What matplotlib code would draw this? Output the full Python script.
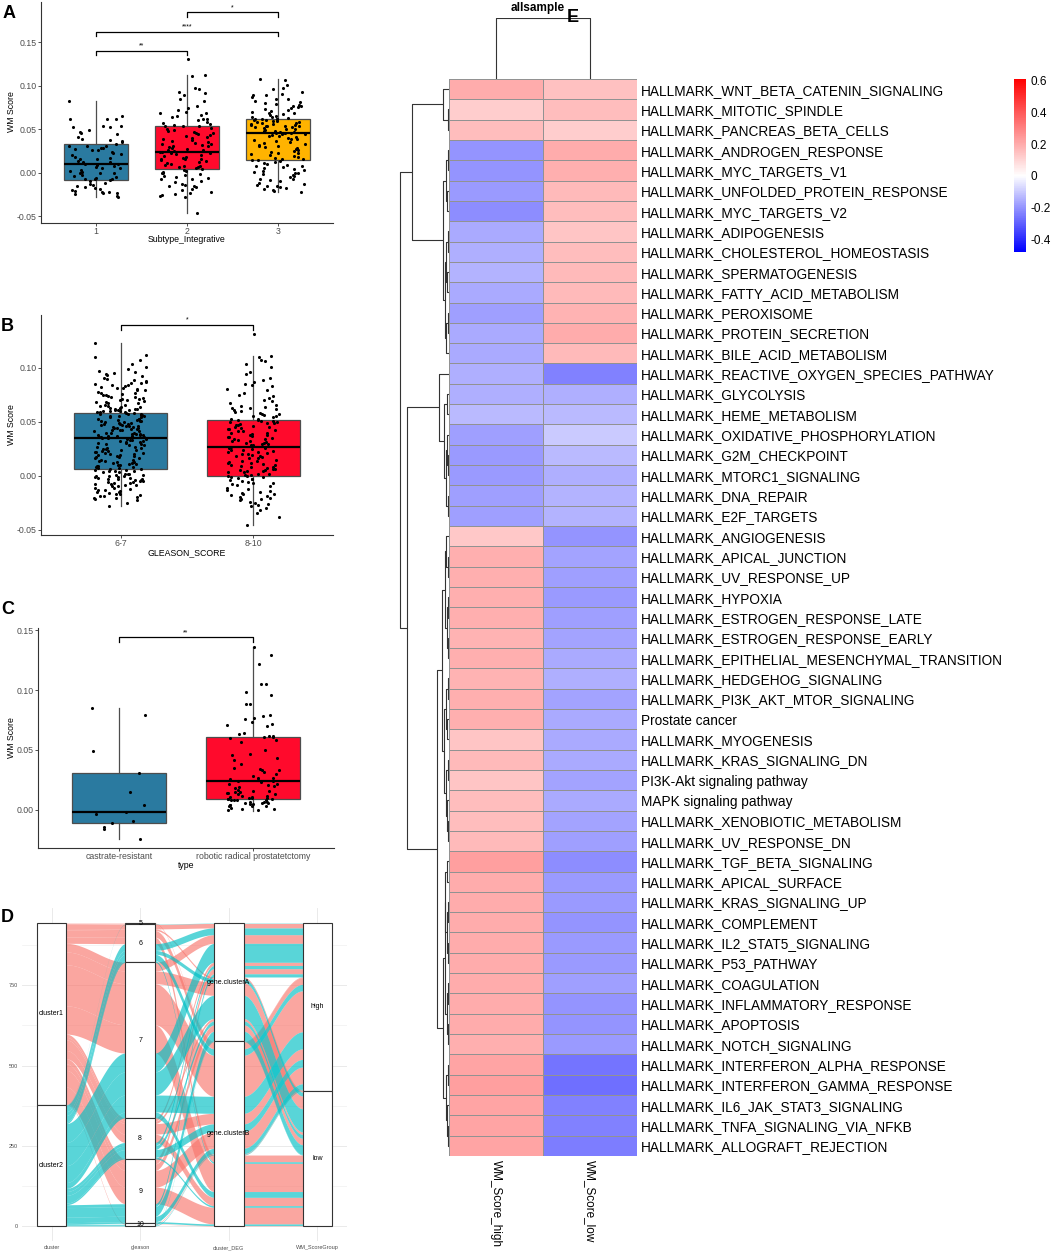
import numpy as np
import matplotlib.pyplot as plt
from matplotlib.colors import LinearSegmentedColormap, Normalize
from matplotlib.cm import ScalarMappable

plt.rcParams['font.family'] = ['Liberation Sans', 'DejaVu Sans']

# ---------------- panel A ----------------
a_labels = ['1', '2', '3']
a_q1 = [-0.009, 0.004, 0.014]
a_med = [0.010, 0.024, 0.046]
a_q3 = [0.033, 0.054, 0.061]
a_lo = [-0.028, -0.047, -0.022]
a_hi = [0.082, 0.112, 0.107]
# jitter points, in thousandths
a_pts1 = [82, 65, 62, 61, 61, 54, 53, 52, 52, 49, 47, 46, 44, 41, 39, 37, 36, 35, 33, 31, 31, 30, 28, 28, 27,
          26, 26, 24, 22, 21, 20, 18, 17, 16, 15, 13, 12, 12, 10, 10, 9, 8, 6, 5, 5, 3, 2, 1, 0, -1, -1, -3,
          -4, -5, -6, -7, -8, -8, -9, -10, -12, -13, -14, -15, -17, -18, -19, -20, -21, -22, -22, -23, -24,
          -25, -27, -28]
a_pts2 = [131, 112, 111, 97, 96, 93, 91, 89, 84, 82, 76, 74, 72, 70, 68, 68, 66, 65, 64, 62, 61, 60, 58, 57,
          56, 55, 54, 54, 53, 51, 50, 49, 48, 47, 46, 45, 44, 43, 42, 41, 40, 38, 37, 36, 35, 34, 33, 33, 32,
          31, 30, 29, 28, 27, 26, 26, 25, 24, 24, 23, 22, 21, 20, 19, 18, 17, 16, 16, 15, 14, 13, 12, 11, 10,
          9, 8, 7, 6, 6, 5, 4, 3, 2, 1, 0, -1, -2, -3, -4, -5, -6, -7, -8, -10, -11, -13, -14, -15, -16, -17,
          -19, -20, -22, -24, -25, -26, -27, -28, -47]
a_pts3 = [107, 106, 101, 97, 96, 93, 90, 89, 89, 87, 85, 84, 82, 81, 80, 79, 78, 77, 76, 75, 74, 73, 72, 71,
          70, 69, 68, 67, 66, 65, 64, 64, 63, 62, 62, 61, 61, 60, 60, 59, 59, 58, 58, 57, 57, 56, 56, 55, 55,
          54, 54, 53, 53, 52, 52, 51, 50, 50, 49, 48, 48, 47, 47, 46, 46, 45, 45, 44, 44, 43, 42, 42, 41, 40,
          39, 38, 37, 36, 35, 34, 33, 32, 31, 30, 29, 28, 27, 26, 25, 24, 23, 22, 21, 20, 19, 18, 17, 16, 15,
          14, 14, 13, 12, 11, 10, 9, 8, 7, 6, 5, 4, 3, 2, 1, 0, -1, -2, -3, -4, -5, -7, -8, -9, -10, -12, -13,
          -14, -15, -16, -17, -18, -19, -20, -21, -22]

# ---------------- panel B ----------------
b_labels = ['6-7', '8-10']
b_q1 = [0.006, 0.000]
b_med = [0.035, 0.027]
b_q3 = [0.058, 0.052]
b_lo = [-0.028, -0.046]
b_hi = [0.123, 0.111]
b_pts1 = [123, 112, 110, 107, 104, 101, 99, 97, 96, 95, 94, 93, 92, 91, 90, 89, 88, 87, 86, 86, 85, 84, 84,
          83, 82, 81, 81, 80, 79, 79, 78, 77, 77, 76, 75, 75, 74, 73, 73, 72, 71, 71, 70, 70, 69, 68, 68, 67,
          67, 66, 66, 65, 65, 64, 64, 63, 63, 62, 62, 62, 61, 61, 61, 60, 60, 60, 59, 59, 59, 58,
          58, 57, 57, 57, 56, 56, 55, 55, 55, 54, 54, 53, 53, 53, 52, 52, 51, 51, 51, 50, 50, 49, 49, 48, 48,
          48, 47, 47, 46, 46, 46, 45, 45, 44, 44, 44, 43, 43, 42, 42, 42, 41, 41, 40, 40, 40, 39, 39, 39, 38,
          38, 38, 37, 37, 37, 36, 36, 36, 35, 35,
          34, 34, 33, 33, 32, 32, 31, 31, 30, 30, 29, 29, 28, 28, 27, 27, 26, 26, 25, 25, 24, 24, 23, 23, 22,
          22, 21, 21, 20, 20, 19, 19, 18, 18, 17, 17, 16, 16, 15, 15, 14, 14, 13, 13, 12, 12, 11, 11, 10, 10,
          9, 9, 8, 8, 7, 7, 6, 6,
          5, 5, 4, 4, 4, 3, 3, 2, 2, 2, 1, 1, 0, 0, 0, -1, -1, -2, -2, -3, -3, -3, -4, -4, -5, -5, -6, -6, -7,
          -7, -8, -8, -9, -9, -10, -10, -11, -11, -12, -13, -13, -14, -15, -15, -16, -17, -17, -18, -19, -19,
          -20, -21, -21, -22, -23, -25, -28]
b_pts2 = [131, 111, 110, 107, 106, 104, 101, 96, 94, 91, 89, 87, 85, 84, 83, 80, 79, 77, 75, 74, 72, 70, 69,
          67, 66, 65, 64, 63, 63, 62, 61, 60, 59, 58, 57, 57, 56, 55, 55, 54, 53, 53, 52, 52,
          51, 51, 50, 50, 49, 49, 48, 47, 47, 46, 45, 45, 44, 43, 43, 42, 41, 41, 40, 40, 39, 38, 38, 37, 36,
          36, 35, 34, 34, 33, 32, 32, 31, 30, 30, 29, 29, 28, 28, 27, 27,
          26, 26, 25, 24, 24, 23, 22, 22, 21, 20, 20, 19, 18, 18, 17, 16, 16, 15, 14, 14, 13, 12, 12, 11, 10,
          10, 9, 8, 8, 7, 6, 6, 5, 5, 4, 4, 3, 3, 2, 2, 1, 1, 0, 0,
          -1, -1, -2, -3, -3, -4, -5, -6, -7, -7, -8, -9, -10, -11, -12, -13, -14, -15, -16, -17, -17, -18,
          -19, -20, -21, -22, -22, -23, -24, -25, -26, -27, -28, -30, -32, -35, -38, -46]

# ---------------- panel C ----------------
c_labels = ['castrate-resistant', 'robotic radical prostatetctomy']
c_q1 = [-0.011, 0.009]
c_med = [-0.002, 0.024]
c_q3 = [0.031, 0.061]
c_lo = [-0.024, -0.001]
c_hi = [0.085, 0.136]
c_pts1 = [85, 79, 49, 31, 15, 4, -2, -3, -9, -11, -14, -16, -24]
c_pts2 = [136, 129, 122, 105, 105, 98, 96, 88, 88, 79, 78, 77, 76, 73, 72, 71, 70, 64, 63, 62, 62, 61, 61,
          60, 58, 57, 50, 47, 46, 43, 42, 38, 35, 34, 33, 33, 32, 30, 28, 27, 27, 26, 25, 24, 24, 23, 22, 22,
          21, 20, 19, 18, 17, 16, 16, 15, 15, 14, 14, 13, 13, 12, 12, 11, 11, 10, 10, 10, 9, 9, 9, 8, 8, 8, 8,
          7, 7, 7, 6, 6, 6, 5, 5, 4, 4, 3, 3, 3, 2, 1, 1, 0, 0]

box_cols = ['#2A7AA0', '#FF0A2C', '#FFB300']

# ---------------- panel D (alluvial) ----------------
d_axes = ['cluster', 'gleason', 'cluster_DEG', 'WM_ScoreGroup']
d_clusters = ['cluster1', 'cluster2']
d_gleason = ['5', '6', '7', '8', '9', '10']
d_deg = ['gene.clusterA', 'gene.clusterB']
d_wm = ['high', 'low']
# counts[cluster][gleason] -> (A-high, A-low, B-high, B-low)
d_counts = [
    [[0, 0, 2, 1], [14, 5, 21, 20], [27, 40, 128, 88], [10, 8, 33, 26], [16, 20, 52, 52], [0, 0, 2, 1]],
    [[1, 0, 0, 0], [21, 12, 20, 5], [59, 72, 53, 18], [10, 12, 24, 5], [9, 30, 17, 5], [1, 2, 2, 0]],
]
d_cols = ['#F8766D', '#00BFC4']

# ---------------- panel E (heatmap) ----------------
e_rows = ['HALLMARK_WNT_BETA_CATENIN_SIGNALING', 'HALLMARK_MITOTIC_SPINDLE', 'HALLMARK_PANCREAS_BETA_CELLS',
          'HALLMARK_ANDROGEN_RESPONSE', 'HALLMARK_MYC_TARGETS_V1', 'HALLMARK_UNFOLDED_PROTEIN_RESPONSE',
          'HALLMARK_MYC_TARGETS_V2', 'HALLMARK_ADIPOGENESIS', 'HALLMARK_CHOLESTEROL_HOMEOSTASIS',
          'HALLMARK_SPERMATOGENESIS', 'HALLMARK_FATTY_ACID_METABOLISM', 'HALLMARK_PEROXISOME',
          'HALLMARK_PROTEIN_SECRETION', 'HALLMARK_BILE_ACID_METABOLISM',
          'HALLMARK_REACTIVE_OXYGEN_SPECIES_PATHWAY', 'HALLMARK_GLYCOLYSIS', 'HALLMARK_HEME_METABOLISM',
          'HALLMARK_OXIDATIVE_PHOSPHORYLATION', 'HALLMARK_G2M_CHECKPOINT', 'HALLMARK_MTORC1_SIGNALING',
          'HALLMARK_DNA_REPAIR', 'HALLMARK_E2F_TARGETS', 'HALLMARK_ANGIOGENESIS', 'HALLMARK_APICAL_JUNCTION',
          'HALLMARK_UV_RESPONSE_UP', 'HALLMARK_HYPOXIA', 'HALLMARK_ESTROGEN_RESPONSE_LATE',
          'HALLMARK_ESTROGEN_RESPONSE_EARLY', 'HALLMARK_EPITHELIAL_MESENCHYMAL_TRANSITION',
          'HALLMARK_HEDGEHOG_SIGNALING', 'HALLMARK_PI3K_AKT_MTOR_SIGNALING', 'Prostate cancer',
          'HALLMARK_MYOGENESIS', 'HALLMARK_KRAS_SIGNALING_DN', 'PI3K-Akt signaling pathway',
          'MAPK signaling pathway', 'HALLMARK_XENOBIOTIC_METABOLISM', 'HALLMARK_UV_RESPONSE_DN',
          'HALLMARK_TGF_BETA_SIGNALING', 'HALLMARK_APICAL_SURFACE', 'HALLMARK_KRAS_SIGNALING_UP',
          'HALLMARK_COMPLEMENT', 'HALLMARK_IL2_STAT5_SIGNALING', 'HALLMARK_P53_PATHWAY',
          'HALLMARK_COAGULATION', 'HALLMARK_INFLAMMATORY_RESPONSE', 'HALLMARK_APOPTOSIS',
          'HALLMARK_NOTCH_SIGNALING', 'HALLMARK_INTERFERON_ALPHA_RESPONSE',
          'HALLMARK_INTERFERON_GAMMA_RESPONSE', 'HALLMARK_IL6_JAK_STAT3_SIGNALING',
          'HALLMARK_TNFA_SIGNALING_VIA_NFKB', 'HALLMARK_ALLOGRAFT_REJECTION']
e_cols = ['WM_Score_high', 'WM_Score_low']
e_high = [0.20, 0.12, 0.155, -0.20, -0.20, -0.19, -0.215, -0.16, -0.15, -0.14, -0.16, -0.18, -0.16, -0.16,
          -0.15, -0.15, -0.13, -0.18, -0.19, -0.19, -0.18, -0.18, 0.13, 0.19, 0.19, 0.19, 0.19, 0.18, 0.19,
          0.18, 0.19, 0.19, 0.14, 0.167, 0.14, 0.155, 0.155, 0.167, 0.23, 0.20, 0.20, 0.20, 0.20, 0.20, 0.20,
          0.20, 0.20, 0.19, 0.215, 0.23, 0.215, 0.215, 0.215]
e_low = [0.15, 0.155, 0.12, 0.20, 0.19, 0.165, 0.155, 0.14, 0.155, 0.165, 0.165, 0.18, 0.20, 0.165,
         -0.235, -0.15, -0.13, -0.10, -0.13, -0.15, -0.14, -0.14, -0.20, -0.17, -0.18, -0.19, -0.18, -0.17,
         -0.16, -0.15, -0.17, -0.16, -0.16, -0.16, -0.17, -0.16, -0.17, -0.18, -0.215, -0.19, -0.19, -0.20,
         -0.19, -0.19, -0.18, -0.20, -0.20, -0.19, -0.26, -0.27, -0.235, -0.235, -0.245]
# row tree: [left, right, height], height in px from heatmap edge
g1 = [0, [1, 2, 1.5], 5.7]
g2 = [[[3, 4, 1.0], [5, 6, 2.2], 3.5], [[[7, 8, 1.2], [9, 10, 1.8], 3.0], [[11, 12, 1.4], 13, 2.6], 4.2], 6.0]
g3 = [14, [[15, 16, 1.6], [[17, [18, 19, 1.0], 2.4], [20, 21, 1.2], 3.2], 4.6], 9.7]
g4a = [[[22, [23, 24, 1.5], 3.0], [[25, 26, 1.2], [27, 28, 1.0], 2.5], 4.5],
       [[[29, 30, 1.3], [31, 32, 1.8], 2.8], [[33, 34, 1.1], [35, [36, 37, 1.0], 1.7], 3.0], 5.0], 7.0]
g4b = [[[[38, 39, 1.6], [[40, 41, 1.0], [42, 43, 1.3], 2.4], 3.6], [[44, 45, 1.1], [46, 47, 1.4], 2.2], 4.4],
       [[48, 49, 1.5], [50, [51, 52, 0.8], 1.6], 3.0], 6.2]
row_tree = [[g1, g2, 37.5], [g3, [g4a, g4b, 12.3], 41.8], 49.0]

W, H = 1052, 1251
fig = plt.figure(figsize=(W / 100, H / 100), dpi=100)


def px_axes(x0, y0, x1, y1):
    return fig.add_axes([x0 / W, 1 - y1 / H, (x1 - x0) / W, (y1 - y0) / H])


def jitter(n, w, seed):
    k = np.arange(n) + seed
    u = (np.sin(k * 12.9898 + 4.1414) * 43758.5453) % 1
    return (u - 0.5) * 2 * w


def box_panel(ax, labels, q1, med, q3, lo, hi, pts, jw, ylim, yticks, brackets, tick):
    for i in range(len(labels)):
        st = dict(q1=q1[i], med=med[i], q3=q3[i], whislo=lo[i], whishi=hi[i], fliers=[])
        ax.bxp([st], positions=[i + 1], widths=0.7, patch_artist=True, showcaps=False,
               boxprops=dict(facecolor=box_cols[i], edgecolor='#4d4d4d', linewidth=0.9),
               medianprops=dict(color='black', linewidth=1.6),
               whiskerprops=dict(color='#4d4d4d', linewidth=0.9))
        y = np.array(pts[i]) / 1000
        ax.scatter(i + 1 + jitter(len(y), jw, i * 97), y, s=5, color='black', linewidths=0, zorder=3)
    for x1, x2, yb, lab in brackets:
        ax.plot([x1, x1, x2, x2], [yb - tick, yb, yb, yb - tick], color='black', lw=0.9)
        ax.text((x1 + x2) / 2, yb + tick * 0.2, lab, ha='center', va='bottom', fontsize=5)
    ax.set_xlim(0.4, len(labels) + 0.6)
    ax.set_ylim(*ylim)
    ax.set_xticks(range(1, len(labels) + 1))
    ax.set_xticklabels(labels)
    ax.set_yticks(yticks)
    ax.set_yticklabels([f'{v:.2f}' for v in yticks])
    for s in ['top', 'right']:
        ax.spines[s].set_visible(False)
    for s in ['left', 'bottom']:
        ax.spines[s].set_color('#333333')
        ax.spines[s].set_linewidth(0.8)
    ax.tick_params(labelsize=6.3, color='#333333', labelcolor='#4d4d4d', length=2, width=0.6, pad=1)


# A
axA = px_axes(41, 2, 333, 223)
box_panel(axA, a_labels, a_q1, a_med, a_q3, a_lo, a_hi, [a_pts1, a_pts2, a_pts3], 0.3,
          (-0.058, 0.196), [-0.05, 0, 0.05, 0.10, 0.15],
          [(1, 2, 0.140, '**'), (1, 3, 0.162, '****'), (2, 3, 0.184, '*')], 0.005)
fig.text(11 / W, 1 - 112 / H, 'WM Score', rotation=90, ha='center', va='center', fontsize=6.3)
fig.text(187 / W, 1 - 240 / H, 'Subtype_Integrative', ha='center', va='center', fontsize=6.3)

# B
axB = px_axes(41, 315, 333, 535)
box_panel(axB, b_labels, b_q1, b_med, b_q3, b_lo, b_hi, [b_pts1, b_pts2], 0.2,
          (-0.055, 0.149), [-0.05, 0, 0.05, 0.10], [(1, 2, 0.140, '*')], 0.0045)
fig.text(11 / W, 1 - 425 / H, 'WM Score', rotation=90, ha='center', va='center', fontsize=6.3)
fig.text(187 / W, 1 - 553 / H, 'GLEASON_SCORE', ha='center', va='center', fontsize=6.3)

# C
axC = px_axes(38, 628, 334, 848)
box_panel(axC, c_labels, c_q1, c_med, c_q3, c_lo, c_hi, [c_pts1, c_pts2], 0.2,
          (-0.0317, 0.1517), [0, 0.05, 0.10, 0.15], [(1, 2, 0.144, '**')], 0.004)
fig.text(11 / W, 1 - 738 / H, 'WM Score', rotation=90, ha='center', va='center', fontsize=6.3)
fig.text(186 / W, 1 - 866 / H, 'type', ha='center', va='center', fontsize=6.3)

# D - alluvial, lodes ordered by zigzag like ggalluvial
axD = px_axes(22, 908, 347, 1241)
alluvia = []
for c in range(len(d_clusters)):
    for g in range(len(d_gleason)):
        for k in range(4):
            n = d_counts[c][g][k]
            if n > 0:
                alluvia.append(((c, g, k // 2, k % 2), n))
N = sum(n for _, n in alluvia)
zigzag = [[0, 1, 2, 3], [1, 0, 2, 3], [2, 3, 1, 0], [3, 2, 1, 0]]
pos = [[None] * 4 for _ in alluvia]
for a in range(4):
    order = sorted(range(len(alluvia)), key=lambda j: tuple(alluvia[j][0][k] for k in zigzag[a]))
    top = N
    for j in order:
        n = alluvia[j][1]
        pos[j][a] = (top - n, top)
        top -= n

hw = 1 / 6
tt = np.linspace(0, 1, 40)[1:-1]
sig = tt * tt * (3 - 2 * tt)
for j, (key, n) in enumerate(alluvia):
    xs, yb, yt = [], [], []
    for a in range(4):
        xs += [a + 1 - hw, a + 1 + hw]
        yb += [pos[j][a][0]] * 2
        yt += [pos[j][a][1]] * 2
        if a < 3:
            x0, x1 = a + 1 + hw, a + 2 - hw
            xs += list(x0 + (x1 - x0) * tt)
            yb += list(pos[j][a][0] + (pos[j][a + 1][0] - pos[j][a][0]) * sig)
            yt += list(pos[j][a][1] + (pos[j][a + 1][1] - pos[j][a][1]) * sig)
    axD.fill_between(xs, yb, yt, color=d_cols[key[0]], alpha=0.65, lw=0, zorder=2)

strata_names = [d_clusters, d_gleason, d_deg, d_wm]
for a in range(4):
    top = N
    for s, name in enumerate(strata_names[a]):
        tot = sum(n for key, n in alluvia if key[a] == s)
        axD.bar(a + 1, tot, bottom=top - tot, width=1 / 3, facecolor='white', edgecolor='#333333',
                lw=0.8, zorder=3)
        axD.text(a + 1, top - tot / 2, name, ha='center', va='center', fontsize=5, zorder=4)
        top -= tot
axD.set_xlim(2 / 3, 4 + 1 / 3)
axD.set_ylim(-0.05 * N, 1.05 * N)
axD.set_xticks([1, 2, 3, 4])
axD.set_xticklabels(d_axes)
axD.set_yticks([0, 250, 500, 750])
axD.set_yticks([125, 375, 625, 875], minor=True)
axD.grid(True, which='major', color='#e6e6e6', lw=0.6)
axD.grid(True, which='minor', axis='y', color='#f0f0f0', lw=0.5)
axD.set_axisbelow(True)
for s in axD.spines.values():
    s.set_visible(False)
axD.tick_params(which='both', length=0, labelsize=4, labelcolor='#4d4d4d', pad=3)

# E - heatmap
mat = np.column_stack([e_high, e_low])
vmin, vmax = -0.48, 0.61
cmap = LinearSegmentedColormap.from_list('ph', [(0, '#0000ff'), (-vmin / (vmax - vmin), '#ffffff'),
                                                (1, '#ff0000')])
norm = Normalize(vmin, vmax)
axE = px_axes(449, 79, 637, 1156)
axE.pcolormesh(mat, cmap=cmap, norm=norm, edgecolors='#929292', linewidth=0.6)
axE.set_xlim(0, 2)
axE.set_ylim(len(e_rows), 0)
axE.yaxis.tick_right()
axE.set_yticks(np.arange(len(e_rows)) + 0.5)
axE.set_yticklabels(e_rows, fontsize=9.8)
axE.set_xticks([0.5, 1.5])
axE.set_xticklabels(e_cols, rotation=270, fontsize=8.5, va='top', ha='center')
axE.tick_params(length=0, pad=3)
for s in axE.spines.values():
    s.set_visible(False)

# row dendrogram
axR = px_axes(398, 79, 449, 1156)


def draw_tree(ax, node, horizontal):
    if not isinstance(node, list):
        return node + 0.5, 0.0
    yl, hl = draw_tree(ax, node[0], horizontal)
    yr, hr = draw_tree(ax, node[1], horizontal)
    h = node[2]
    if horizontal:
        ax.plot([hl, h, h, hr], [yl, yl, yr, yr], color='#333333', lw=0.8, solid_capstyle='butt')
    else:
        ax.plot([yl, yl, yr, yr], [hl, h, h, hr], color='#333333', lw=0.8, solid_capstyle='butt')
    return (yl + yr) / 2, h


draw_tree(axR, row_tree, True)
axR.set_xlim(51, 0)
axR.set_ylim(len(e_rows), 0)
axR.axis('off')

# column dendrogram
axT = px_axes(449, 18, 637, 79)
draw_tree(axT, [0, 1, 1.0], False)
axT.set_xlim(0, 2)
axT.set_ylim(0, 1.0)
axT.axis('off')
fig.text(538 / W, 1 - 8 / H, 'allsample', ha='center', va='center', fontsize=8.5, fontweight='bold')

# colorbar
axCB = px_axes(1014, 79, 1026, 252)
cb = fig.colorbar(ScalarMappable(norm=norm, cmap=cmap), cax=axCB, ticks=[-0.4, -0.2, 0, 0.2, 0.4, 0.6])
cb.ax.set_yticklabels(['-0.4', '-0.2', '0', '0.2', '0.4', '0.6'])
cb.outline.set_visible(False)
cb.ax.tick_params(length=0, labelsize=8.5, pad=3)

# panel letters
for lab, x, y in [('A', 3, 14), ('B', 1, 326), ('C', 1, 610), ('D', 1, 917), ('E', 567, 17)]:
    fig.text(x / W, 1 - y / H, lab, ha='left', va='center', fontsize=13, fontweight='bold')

fig.savefig('out.png', dpi=100, facecolor='white')
